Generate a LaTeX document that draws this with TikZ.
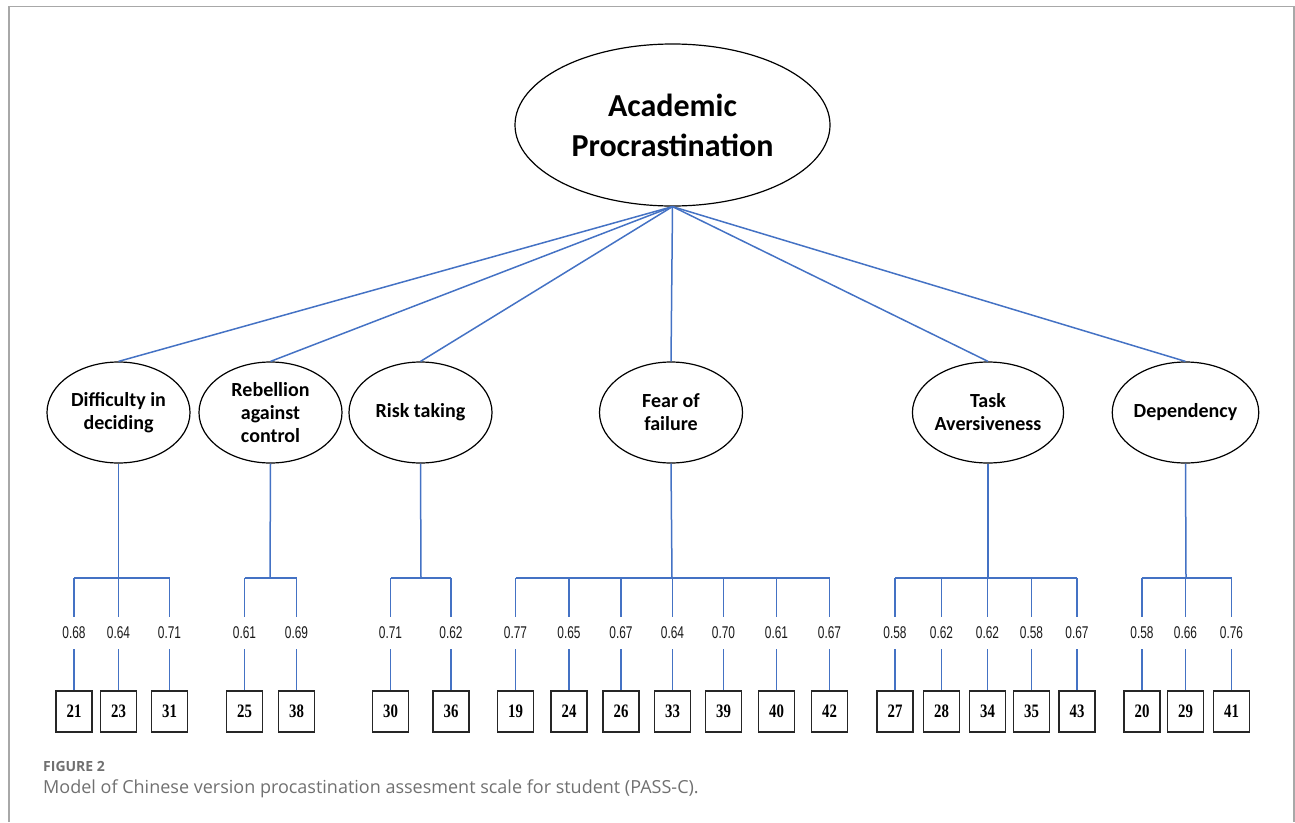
\documentclass[tikz,border=0pt]{standalone}
\usepackage{fontspec}
\setmainfont{Liberation Serif}
\newfontfamily\calfont{Carlito}
\newfontfamily\numfont[FakeStretch=0.78]{Liberation Serif}
\newfontfamily\loadfont[FakeStretch=0.7]{Liberation Sans}
\newfontfamily\capfont{Open Sans}
\usetikzlibrary{shapes.geometric}
\definecolor{linkblue}{HTML}{4472C4}
\definecolor{capgray}{HTML}{707070}
\definecolor{framegray}{HTML}{A8A8A8}
\tikzset{
  latent/.style={ellipse, draw=black, line width=1.2pt, inner sep=0pt,
    minimum width=143pt, minimum height=101pt, align=center,
    font=\calfont\bfseries\fontsize{20}{23}\selectfont},
  topfactor/.style={ellipse, draw=black, line width=1.2pt, inner sep=0pt,
    minimum width=315pt, minimum height=162pt, align=center,
    font=\calfont\bfseries\fontsize{32}{40}\selectfont},
  itembox/.style={draw=black!85, line width=1.5pt, minimum width=36pt,
    minimum height=41pt, inner sep=0pt,
    font=\numfont\bfseries\fontsize{19}{19}\selectfont},
  loadlab/.style={inner sep=0pt, minimum height=32pt,
    font=\loadfont\fontsize{17}{17}\selectfont, text=black!90},
  link/.style={draw=linkblue, line width=1.5pt},
  frameline/.style={draw=framegray, line width=1.5pt},
  captext/.style={anchor=base west, inner sep=0pt, text=capgray}
}
\begin{document}
\begin{tikzpicture}[x=1pt,y=-1pt]
\useasboundingbox (0,0) rectangle (1295,822);
\draw[frameline] (9,822) -- (9,6.5) -- (1294,6.5) -- (1294,822);

\node[topfactor] (ap) at (672.5,125) {Academic\\Procrastination};

\node[latent] (dd) at (118.5,412.5) {Difficulty in\\deciding};
\node[latent] (rc) at (270.5,412.5) {Rebellion\\against\\control};
\node[latent] (rt) at (420.5,412.5) {Risk taking};
\node[latent] (ff) at (671,412.5) {Fear of\\failure};
\node[latent] (ta) at (988,412.5) {Task\\Aversiveness};
\node[latent] (dp) at (1185.5,412.5) {Dependency};

\foreach \f in {dd,rc,rt,ff,ta,dp}{
  \draw[link] (ap.south) -- (\f.north);
}

% brackets
\coordinate (dd-br) at (118.5,578);
\coordinate (rc-br) at (270,578);
\coordinate (rt-br) at (421,578);
\coordinate (ff-br) at (672,578);
\coordinate (ta-br) at (988,578);
\coordinate (dp-br) at (1186,578);

\foreach \f/\items in {
  dd/{74/21/0.68,118.5/23/0.64,169.5/31/0.71},
  rc/{244.5/25/0.61,296.5/38/0.69},
  rt/{390.5/30/0.71,451/36/0.62},
  ff/{515.5/19/0.77,569/24/0.65,621/26/0.67,672.5/33/0.64,723.5/39/0.70,776.5/40/0.61,829.5/42/0.67},
  ta/{895/27/0.58,941.5/28/0.62,987.5/34/0.62,1031.5/35/0.58,1077/43/0.67},
  dp/{1142/20/0.58,1185.5/29/0.66,1231.5/41/0.76}}{
  \draw[link] (\f.south) -- (\f-br);
  \foreach \x/\n/\l in \items {
    \node[itembox] (b\n) at (\x,711.5) {\n};
    \node[loadlab] (l\n) at (\x,633) {\l};
    \draw[link] (l\n.north) -- (l\n.north |- \f-br);
    \draw[link] (l\n.south) -- (b\n.north);
  }
}
\draw[link] (l21.north |- dd-br) -- (l31.north |- dd-br);
\draw[link] (l25.north |- rc-br) -- (l38.north |- rc-br);
\draw[link] (l30.north |- rt-br) -- (l36.north |- rt-br);
\draw[link] (l19.north |- ff-br) -- (l42.north |- ff-br);
\draw[link] (l27.north |- ta-br) -- (l43.north |- ta-br);
\draw[link] (l20.north |- dp-br) -- (l41.north |- dp-br);

\node[captext, font=\capfont\bfseries\fontsize{14}{14}\selectfont] (fig) at (43,771) {FIGURE 2};
\node[captext, font=\capfont\fontsize{18}{18}\selectfont] (cap) at (43,793) {Model of Chinese version procastination assesment scale for student (PASS-C).};
\end{tikzpicture}
\end{document}
